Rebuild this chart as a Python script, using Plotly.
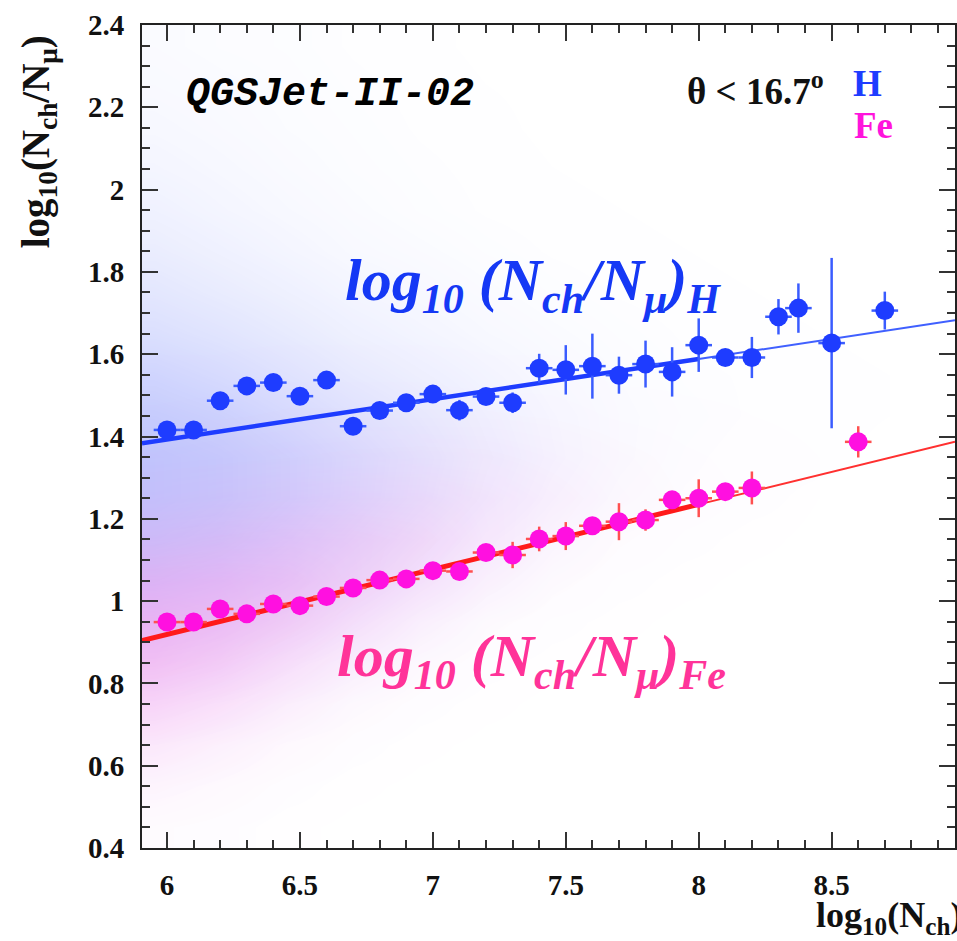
import numpy as np
import plotly.graph_objects as go

# ---- binned means (log10 Nch bins) ----
h_x = [6.0, 6.1, 6.2, 6.3, 6.4, 6.5, 6.6, 6.7, 6.8, 6.9, 7.0, 7.1, 7.2, 7.3,
       7.4, 7.5, 7.6, 7.7, 7.8, 7.9, 8.0, 8.1, 8.2, 8.3, 8.375, 8.5, 8.7]
h_y = [1.416, 1.416, 1.487, 1.523, 1.531, 1.498, 1.537, 1.425, 1.463, 1.482,
       1.503, 1.464, 1.497, 1.482, 1.566, 1.562, 1.571, 1.549, 1.576, 1.557,
       1.622, 1.592, 1.592, 1.691, 1.712, 1.627, 1.706]
h_err = [0.008, 0.008, 0.01, 0.01, 0.012, 0.012, 0.015, 0.012, 0.015, 0.02,
         0.02, 0.025, 0.02, 0.025, 0.035, 0.06, 0.079, 0.045, 0.057, 0.06,
         0.065, 0.02, 0.05, 0.043, 0.06, 0.207, 0.046]

fe_x = [6.0, 6.1, 6.2, 6.3, 6.4, 6.5, 6.6, 6.7, 6.8, 6.9, 7.0, 7.1, 7.2, 7.3,
        7.4, 7.5, 7.6, 7.7, 7.8, 7.9, 8.0, 8.1, 8.2, 8.6]
fe_y = [0.949, 0.949, 0.981, 0.969, 0.993, 0.989, 1.011, 1.032, 1.051, 1.054,
        1.074, 1.072, 1.118, 1.112, 1.151, 1.158, 1.183, 1.193, 1.197, 1.246,
        1.250, 1.266, 1.275, 1.387]
fe_err = [0.005, 0.005, 0.006, 0.006, 0.008, 0.008, 0.008, 0.01, 0.01, 0.012,
          0.012, 0.015, 0.015, 0.032, 0.03, 0.034, 0.015, 0.045, 0.026, 0.02,
          0.046, 0.02, 0.04, 0.038]
bin_halfwidth = 0.05

# ---- linear fits  y = a + b*x ----
h_fit = (0.806, 0.0978)
fe_fit = (-0.029, 0.158)
fit_range = (5.906, 8.0)
extrap_range = (8.0, 8.964)

# ---- event density (relative) on a coarse grid ----
cloud_x = [5.95, 6.2, 6.45, 6.7, 6.95, 7.2, 7.45, 7.7, 7.95, 8.2, 8.45, 8.7, 8.95]
cloud_y = [0.45, 0.55, 0.65, 0.75, 0.85, 0.95, 1.05, 1.15, 1.25, 1.35,
           1.45, 1.55, 1.65, 1.75, 1.85, 1.95, 2.05, 2.15, 2.25, 2.35]
h_density = [
    [0.01, 0.01, 0, 0, 0, 0, 0, 0, 0, 0, 0, 0, 0],
    [0.03, 0.02, 0.01, 0, 0, 0, 0, 0, 0, 0, 0, 0, 0],
    [0.06, 0.04, 0.02, 0.01, 0, 0, 0, 0, 0, 0, 0, 0, 0],
    [0.14, 0.10, 0.06, 0.03, 0.01, 0, 0, 0, 0, 0, 0, 0, 0],
    [0.30, 0.24, 0.15, 0.08, 0.03, 0.01, 0, 0, 0, 0, 0, 0, 0],
    [0.50, 0.42, 0.30, 0.18, 0.08, 0.03, 0.01, 0, 0, 0, 0, 0, 0],
    [0.72, 0.62, 0.48, 0.32, 0.18, 0.08, 0.03, 0.01, 0, 0, 0, 0, 0],
    [0.85, 0.78, 0.62, 0.45, 0.28, 0.14, 0.06, 0.02, 0.01, 0, 0, 0, 0],
    [0.92, 0.85, 0.72, 0.55, 0.38, 0.22, 0.11, 0.05, 0.02, 0.01, 0, 0, 0],
    [0.92, 0.85, 0.72, 0.56, 0.40, 0.25, 0.14, 0.07, 0.03, 0.01, 0.01, 0, 0],
    [0.82, 0.74, 0.60, 0.46, 0.34, 0.22, 0.13, 0.07, 0.04, 0.02, 0.01, 0.005, 0],
    [0.68, 0.58, 0.46, 0.34, 0.25, 0.17, 0.10, 0.06, 0.03, 0.02, 0.01, 0.005, 0],
    [0.52, 0.44, 0.34, 0.24, 0.17, 0.11, 0.07, 0.04, 0.02, 0.01, 0.005, 0, 0],
    [0.40, 0.32, 0.24, 0.16, 0.11, 0.07, 0.04, 0.02, 0.01, 0.005, 0, 0, 0],
    [0.30, 0.23, 0.16, 0.10, 0.07, 0.04, 0.02, 0.01, 0.005, 0, 0, 0, 0],
    [0.22, 0.16, 0.11, 0.07, 0.04, 0.02, 0.01, 0.005, 0, 0, 0, 0, 0],
    [0.16, 0.12, 0.08, 0.05, 0.03, 0.015, 0.005, 0, 0, 0, 0, 0, 0],
    [0.12, 0.09, 0.06, 0.04, 0.02, 0.01, 0, 0, 0, 0, 0, 0, 0],
    [0.09, 0.07, 0.05, 0.03, 0.015, 0.005, 0, 0, 0, 0, 0, 0, 0],
    [0.07, 0.05, 0.04, 0.02, 0.01, 0, 0, 0, 0, 0, 0, 0, 0],
]
fe_density = [
    [0.05, 0.03, 0.01, 0, 0, 0, 0, 0, 0, 0, 0, 0, 0],
    [0.14, 0.08, 0.03, 0.01, 0, 0, 0, 0, 0, 0, 0, 0, 0],
    [0.32, 0.20, 0.09, 0.03, 0.01, 0, 0, 0, 0, 0, 0, 0, 0],
    [0.58, 0.42, 0.22, 0.08, 0.03, 0.01, 0, 0, 0, 0, 0, 0, 0],
    [0.82, 0.66, 0.42, 0.20, 0.08, 0.02, 0.01, 0, 0, 0, 0, 0, 0],
    [0.90, 0.80, 0.62, 0.38, 0.18, 0.06, 0.02, 0.01, 0, 0, 0, 0, 0],
    [0.72, 0.74, 0.68, 0.52, 0.34, 0.16, 0.06, 0.02, 0.01, 0, 0, 0, 0],
    [0.42, 0.48, 0.52, 0.50, 0.42, 0.26, 0.12, 0.05, 0.02, 0.01, 0, 0, 0],
    [0.20, 0.24, 0.28, 0.30, 0.30, 0.24, 0.16, 0.08, 0.04, 0.02, 0.005, 0, 0],
    [0.08, 0.10, 0.12, 0.14, 0.15, 0.14, 0.10, 0.06, 0.03, 0.015, 0.005, 0, 0],
    [0.03, 0.04, 0.05, 0.05, 0.05, 0.05, 0.04, 0.02, 0.01, 0.005, 0, 0, 0],
    [0.01, 0.01, 0.02, 0.02, 0.02, 0.01, 0.01, 0, 0, 0, 0, 0, 0],
    [0, 0, 0, 0, 0, 0, 0, 0, 0, 0, 0, 0, 0],
    [0, 0, 0, 0, 0, 0, 0, 0, 0, 0, 0, 0, 0],
    [0, 0, 0, 0, 0, 0, 0, 0, 0, 0, 0, 0, 0],
    [0, 0, 0, 0, 0, 0, 0, 0, 0, 0, 0, 0, 0],
    [0, 0, 0, 0, 0, 0, 0, 0, 0, 0, 0, 0, 0],
    [0, 0, 0, 0, 0, 0, 0, 0, 0, 0, 0, 0, 0],
    [0, 0, 0, 0, 0, 0, 0, 0, 0, 0, 0, 0, 0],
    [0, 0, 0, 0, 0, 0, 0, 0, 0, 0, 0, 0, 0],
]

X_RANGE = [5.906, 8.964]
Y_RANGE = [0.4, 2.4]

BLUE = "#1e3cff"
BLUE_ERR = "#3a5cff"
MAGENTA = "#ff10e0"
RED = "#ff1a1a"
FE_ERR = "#ff5050"
SERIF = "Liberation Serif"

fig = go.Figure()

# event clouds
fig.add_trace(go.Heatmap(
    x=cloud_x, y=cloud_y, z=h_density, zmin=0, zmax=1, zsmooth="best",
    colorscale=[[0, "rgba(90,110,250,0)"], [1, "rgba(90,110,250,0.42)"]],
    showscale=False, hoverinfo="skip"))
fig.add_trace(go.Heatmap(
    x=cloud_x, y=cloud_y, z=fe_density, zmin=0, zmax=1, zsmooth="best",
    colorscale=[[0, "rgba(255,100,225,0)"], [1, "rgba(255,100,225,0.4)"]],
    showscale=False, hoverinfo="skip"))


def fit_line(params, xr, color, width):
    a, b = params
    xs = np.array(xr)
    return go.Scatter(x=xs, y=a + b * xs, mode="lines",
                      line=dict(color=color, width=width),
                      hoverinfo="skip", showlegend=False)


fig.add_trace(fit_line(h_fit, fit_range, BLUE, 4.5))
fig.add_trace(fit_line(h_fit, extrap_range, "#4060ff", 2))
fig.add_trace(fit_line(fe_fit, fit_range, RED, 5))
fig.add_trace(fit_line(fe_fit, extrap_range, "#ff3030", 2))

# profile points
fig.add_trace(go.Scatter(
    x=h_x, y=h_y, mode="markers",
    marker=dict(color=BLUE, size=19, symbol="circle"),
    error_y=dict(type="data", array=h_err, color=BLUE_ERR, thickness=2.5, width=0),
    error_x=dict(type="constant", value=bin_halfwidth, color=BLUE_ERR, thickness=2.5, width=0),
    showlegend=False))
fig.add_trace(go.Scatter(
    x=fe_x, y=fe_y, mode="markers",
    marker=dict(color=MAGENTA, size=19, symbol="circle"),
    error_y=dict(type="data", array=fe_err, color=FE_ERR, thickness=2.5, width=0),
    error_x=dict(type="constant", value=bin_halfwidth, color=FE_ERR, thickness=2.5, width=0),
    showlegend=False))

L, R, T, B = 142, 0, 25, 93
W, H = 957, 941
PW, PH = W - L - R, H - T - B


def px(xp):
    return (xp - L) / PW


def py(yp):
    return (H - B - yp) / PH


axis_common = dict(
    showline=True, linecolor="#222", linewidth=2, mirror="allticks",
    ticks="inside", tickcolor="#333", tickwidth=2, ticklen=16,
    showgrid=False, zeroline=False,
    tickfont=dict(family=SERIF, size=29, color="#111", weight="bold"),
)

fig.update_xaxes(range=X_RANGE,
                 tickvals=[6, 6.5, 7, 7.5, 8, 8.5],
                 ticktext=["6", "6.5", "7", "7.5", "8", "8.5"],
                 ticklabelstandoff=10,
                 minor=dict(dtick=0.1, tick0=6, ticks="inside", ticklen=8,
                            tickcolor="#333", tickwidth=2, showgrid=False),
                 **axis_common)
fig.update_yaxes(range=Y_RANGE,
                 tickvals=[0.4, 0.6, 0.8, 1, 1.2, 1.4, 1.6, 1.8, 2, 2.2, 2.4],
                 ticktext=["0.4", "0.6", "0.8", "1", "1.2", "1.4", "1.6", "1.8", "2", "2.2", "2.4"],
                 ticklabelstandoff=10,
                 minor=dict(dtick=0.05, tick0=0.4, ticks="inside", ticklen=8,
                            tickcolor="#333", tickwidth=2, showgrid=False),
                 **axis_common)

annotations = [
    dict(text="QGSJet-II-02", x=px(330), y=py(94), xanchor="center", yanchor="middle",
         font=dict(family="Liberation Mono", size=40, color="#000",
                   weight="bold", style="italic")),
    dict(text="θ < 16.7<sup>o</sup>", x=px(686), y=py(88), xanchor="left", yanchor="middle",
         font=dict(family=SERIF, size=37, color="#111", weight="bold")),
    dict(text="H", x=px(853), y=py(84), xanchor="left", yanchor="middle",
         font=dict(family=SERIF, size=37, color=BLUE, weight="bold")),
    dict(text="Fe", x=px(854), y=py(125), xanchor="left", yanchor="middle",
         font=dict(family=SERIF, size=37, color="#ff14dc", weight="bold")),
    dict(text="log<sub>10</sub> (N<sub>ch</sub>/N<sub>μ</sub>)<sub>H</sub>",
         x=px(343), y=py(284), xanchor="left", yanchor="middle",
         font=dict(family=SERIF, size=60, color="#1538f5", weight="bold", style="italic")),
    dict(text="log<sub>10</sub> (N<sub>ch</sub>/N<sub>μ</sub>)<sub>Fe</sub>",
         x=px(335), y=py(660), xanchor="left", yanchor="middle",
         font=dict(family=SERIF, size=60, color="#ff3399", weight="bold", style="italic")),
    dict(text="log<sub>10</sub>(N<sub>ch</sub>/N<sub>μ</sub>)", textangle=-90,
         x=px(38), y=py(142), xanchor="center", yanchor="middle",
         font=dict(family=SERIF, size=39, color="#111", weight="bold")),
    dict(text="log<sub>10</sub>(N<sub>ch</sub>)",
         x=px(966), y=py(917), xanchor="right", yanchor="middle",
         font=dict(family=SERIF, size=36, color="#111", weight="bold")),
]
for a in annotations:
    a.update(xref="paper", yref="paper", showarrow=False)

fig.update_layout(
    width=W, height=H,
    margin=dict(l=L, r=R, t=T, b=B),
    paper_bgcolor="white", plot_bgcolor="white",
    showlegend=False,
    annotations=annotations,
)

fig.write_html("out.html")
